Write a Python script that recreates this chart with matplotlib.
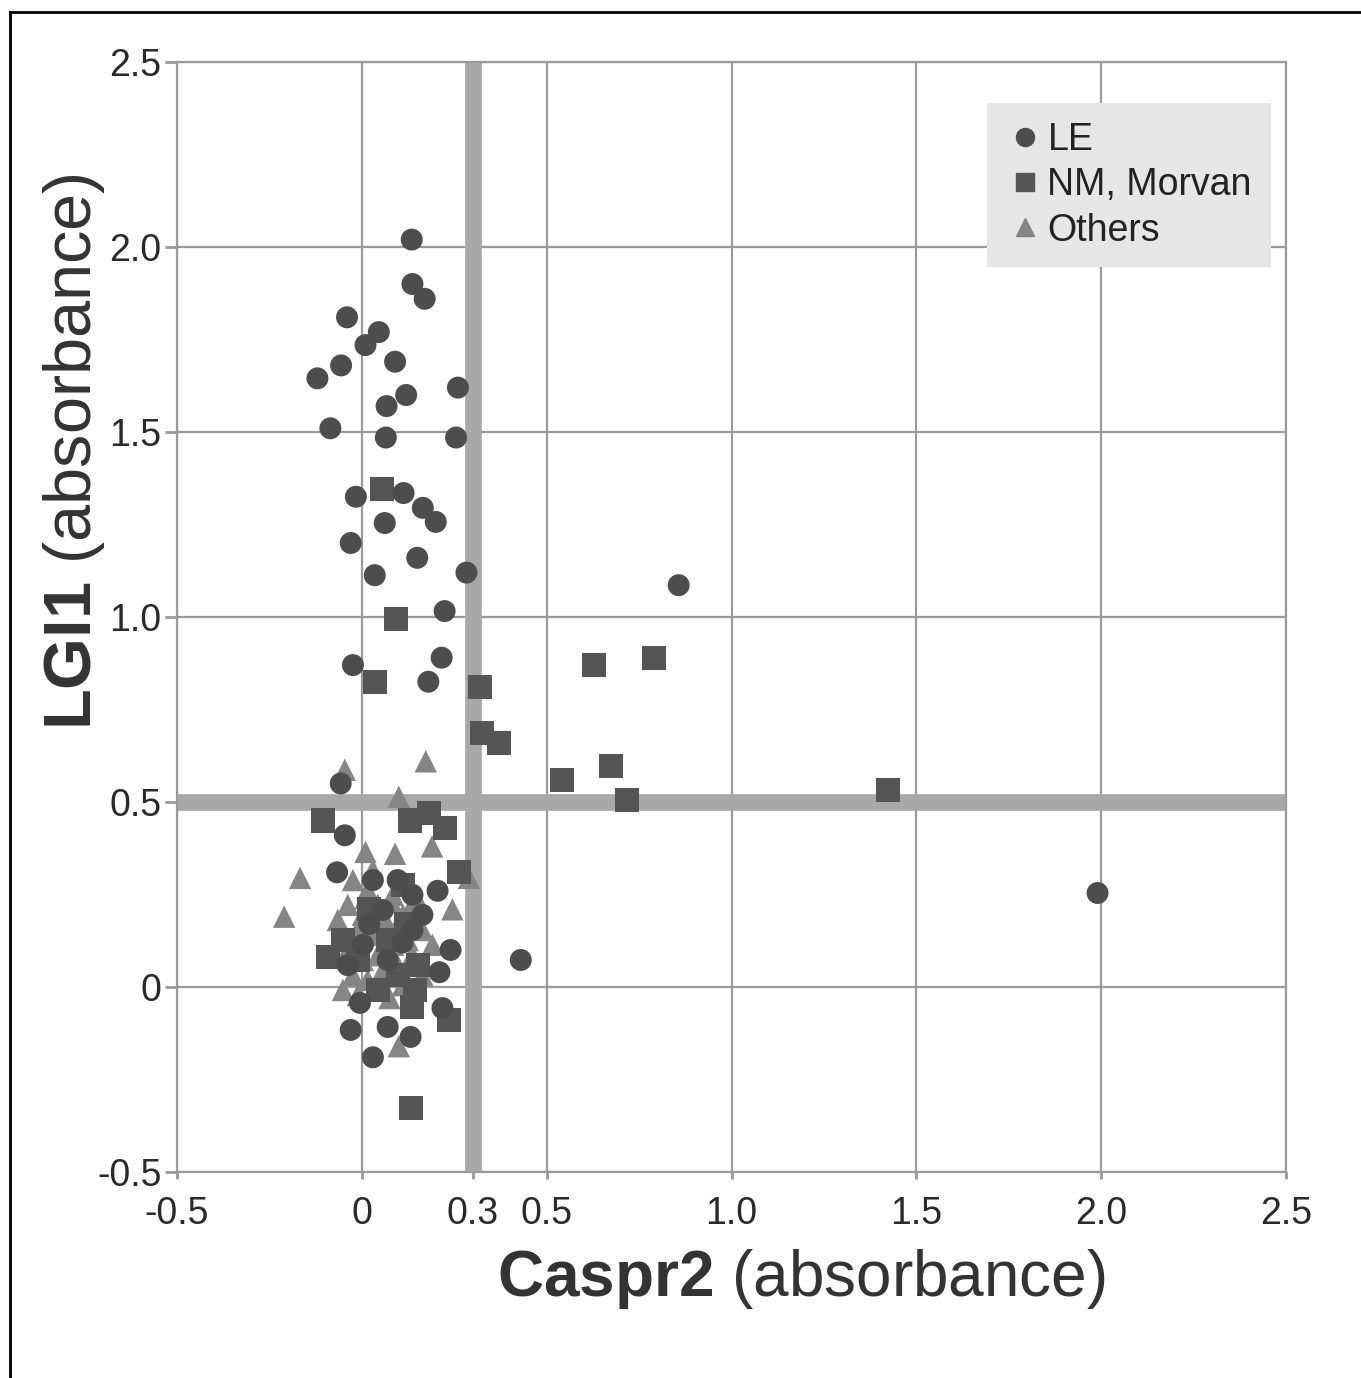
import matplotlib.pyplot as plt
from matplotlib.lines import Line2D

plt.rcParams['font.family'] = ['Liberation Sans', 'DejaVu Sans']
plt.rcParams['mathtext.fontset'] = 'custom'
plt.rcParams['mathtext.bf'] = 'Liberation Sans:bold'
plt.rcParams['mathtext.rm'] = 'Liberation Sans'

# LE (circles)
le_x = [0.135, 0.137, 0.17, -0.04, 0.046, 0.01, 0.09, -0.056, -0.12, 0.12, 0.26,
        0.067, -0.085, 0.065, 0.255, -0.016, 0.113, 0.165, 0.2, 0.062, -0.03, 0.15,
        0.035, 0.283, 0.224, 0.216, -0.024, 0.18, 0.857, 1.99, 0.43, -0.057, -0.046,
        -0.067, 0.205, 0.24, 0.21, -0.005, 0.218, -0.03, 0.07, 0.132, 0.03,
        0.030, 0.097, 0.137, 0.057, 0.164, 0.003, 0.137, 0.070, -0.038, 0.02, 0.11]
le_y = [2.02, 1.90, 1.86, 1.81, 1.77, 1.735, 1.69, 1.68, 1.645, 1.60, 1.62,
        1.57, 1.51, 1.485, 1.485, 1.325, 1.335, 1.295, 1.257, 1.254, 1.20, 1.16,
        1.113, 1.12, 1.016, 0.89, 0.87, 0.825, 1.086, 0.254, 0.073, 0.55, 0.41,
        0.31, 0.26, 0.10, 0.04, -0.043, -0.057, -0.116, -0.108, -0.135, -0.19,
        0.289, 0.289, 0.249, 0.208, 0.195, 0.114, 0.154, 0.073, 0.059, 0.17, 0.12]

# NM, Morvan (squares)
nm_x = [0.054, 0.092, 0.035, 0.32, 0.326, 0.372, 0.79, 0.628, 0.674, 0.542, 0.717,
        1.423, -0.105, 0.13, 0.183, 0.226, 0.264, -0.092, 0.143, 0.137, 0.237, 0.132,
        0.111, 0.070, -0.011, 0.151, -0.051, 0.097, 0.043, 0.02, 0.12]
nm_y = [1.345, 0.995, 0.825, 0.81, 0.686, 0.66, 0.89, 0.87, 0.597, 0.56, 0.505,
        0.532, 0.45, 0.45, 0.47, 0.43, 0.31, 0.08, -0.008, -0.054, -0.089, -0.327,
        0.276, 0.127, 0.073, 0.059, 0.127, 0.032, -0.008, 0.21, 0.17]

# Others (triangles)
ot_x = [0.173, -0.046, 0.10, 0.19, 0.01, 0.09, -0.167, -0.21, 0.245, 0.29, 0.075, 0.10,
        -0.024, 0.016, -0.038, 0.003, 0.043, 0.084, -0.011, 0.030, 0.070, 0.111,
        -0.038, 0.003, 0.043, 0.084, 0.124, -0.024, 0.016, 0.057, 0.097, 0.137,
        0.164, -0.051, -0.011, 0.164, 0.191, 0.111, 0.030, -0.065, 0.151,
        0.05, 0.09, 0.01, 0.06, -0.02, 0.13, 0.08]
ot_y = [0.61, 0.587, 0.514, 0.38, 0.365, 0.36, 0.295, 0.19, 0.21, 0.295, -0.03, -0.16,
        0.289, 0.262, 0.222, 0.195, 0.222, 0.249, 0.154, 0.141, 0.168, 0.195,
        0.100, 0.073, 0.086, 0.114, 0.127, 0.032, 0.019, 0.046, 0.059, 0.086,
        0.154, -0.008, -0.022, 0.032, 0.114, 0.005, 0.316, 0.181, 0.235,
        0.18, 0.14, 0.24, 0.11, 0.13, 0.21, 0.23]

x_ticks = [-0.5, 0, 0.3, 0.5, 1.0, 1.5, 2.0, 2.5]
x_labels = ['-0.5', '0', '0.3', '0.5', '1.0', '1.5', '2.0', '2.5']
y_ticks = [-0.5, 0, 0.5, 1.0, 1.5, 2.0, 2.5]
y_labels = ['-0.5', '0', '0.5', '1.0', '1.5', '2.0', '2.5']
grid_x = [-0.5, 0, 0.5, 1.0, 1.5, 2.0, 2.5]

fig = plt.figure(figsize=(13.61, 13.78), dpi=100)
ax = fig.add_axes([0.130, 0.1495, 0.815, 0.8055])

for g in grid_x:
    ax.axvline(g, color='#9a9a9a', lw=1.6, zorder=1)
for g in y_ticks:
    ax.axhline(g, color='#9a9a9a', lw=1.6, zorder=1)
ax.axvline(0.3, color='#a8a8a8', lw=12, zorder=2)
ax.axhline(0.5, color='#a8a8a8', lw=12, zorder=2)

ax.scatter(ot_x, ot_y, marker='^', s=260, color='#858585', edgecolors='none', zorder=3)
ax.scatter(nm_x, nm_y, marker='s', s=300, color='#555555', edgecolors='none', zorder=4)
ax.scatter(le_x, le_y, marker='o', s=250, color='#4d4d4d', edgecolors='none', zorder=5)

ax.set_xlim(-0.5, 2.5)
ax.set_ylim(-0.5, 2.5)
ax.set_xticks(x_ticks)
ax.set_xticklabels(x_labels)
ax.set_yticks(y_ticks)
ax.set_yticklabels(y_labels)
ax.tick_params(axis='both', labelsize=27, colors='#9a9a9a', labelcolor='#2a2a2a', width=2)
ax.tick_params(axis='y', length=9, pad=2)
ax.tick_params(axis='x', length=5, pad=12)
for s in ax.spines.values():
    s.set_color('#9a9a9a')
    s.set_linewidth(1.6)

ax.set_xlabel(r'$\bf{Caspr2}$ (absorbance)', fontsize=46, color='#333333')
ax.xaxis.set_label_coords(0.563, -0.068)
ax.set_ylabel(r'$\bf{LGI1}$ (absorbance)', fontsize=48, color='#333333')
ax.yaxis.set_label_coords(-0.063, 0.649)

handles = [
    Line2D([], [], ls='none', marker='o', ms=13, color='#4d4d4d'),
    Line2D([], [], ls='none', marker='s', ms=13, color='#555555'),
    Line2D([], [], ls='none', marker='^', ms=13, color='#858585'),
]
leg = ax.legend(handles, ['LE', 'NM, Morvan', 'Others'], loc='upper right',
                bbox_to_anchor=(0.986, 0.963), fontsize=27, frameon=True,
                handletextpad=0.1, handlelength=1.0, labelspacing=0.25,
                borderpad=0.5, borderaxespad=0, fancybox=False)
leg.get_frame().set_facecolor('#e6e6e6')
leg.get_frame().set_edgecolor('none')
leg.get_frame().set_alpha(1)
for t in leg.get_texts():
    t.set_color('#222222')

# page frame (left and top)
fig.add_artist(Line2D([0.0075, 0.0075], [0.0, 0.991], color='black', lw=2, transform=fig.transFigure))
fig.add_artist(Line2D([0.0075, 1.0], [0.991, 0.991], color='black', lw=2, transform=fig.transFigure))

fig.savefig('out.png', dpi=100)
